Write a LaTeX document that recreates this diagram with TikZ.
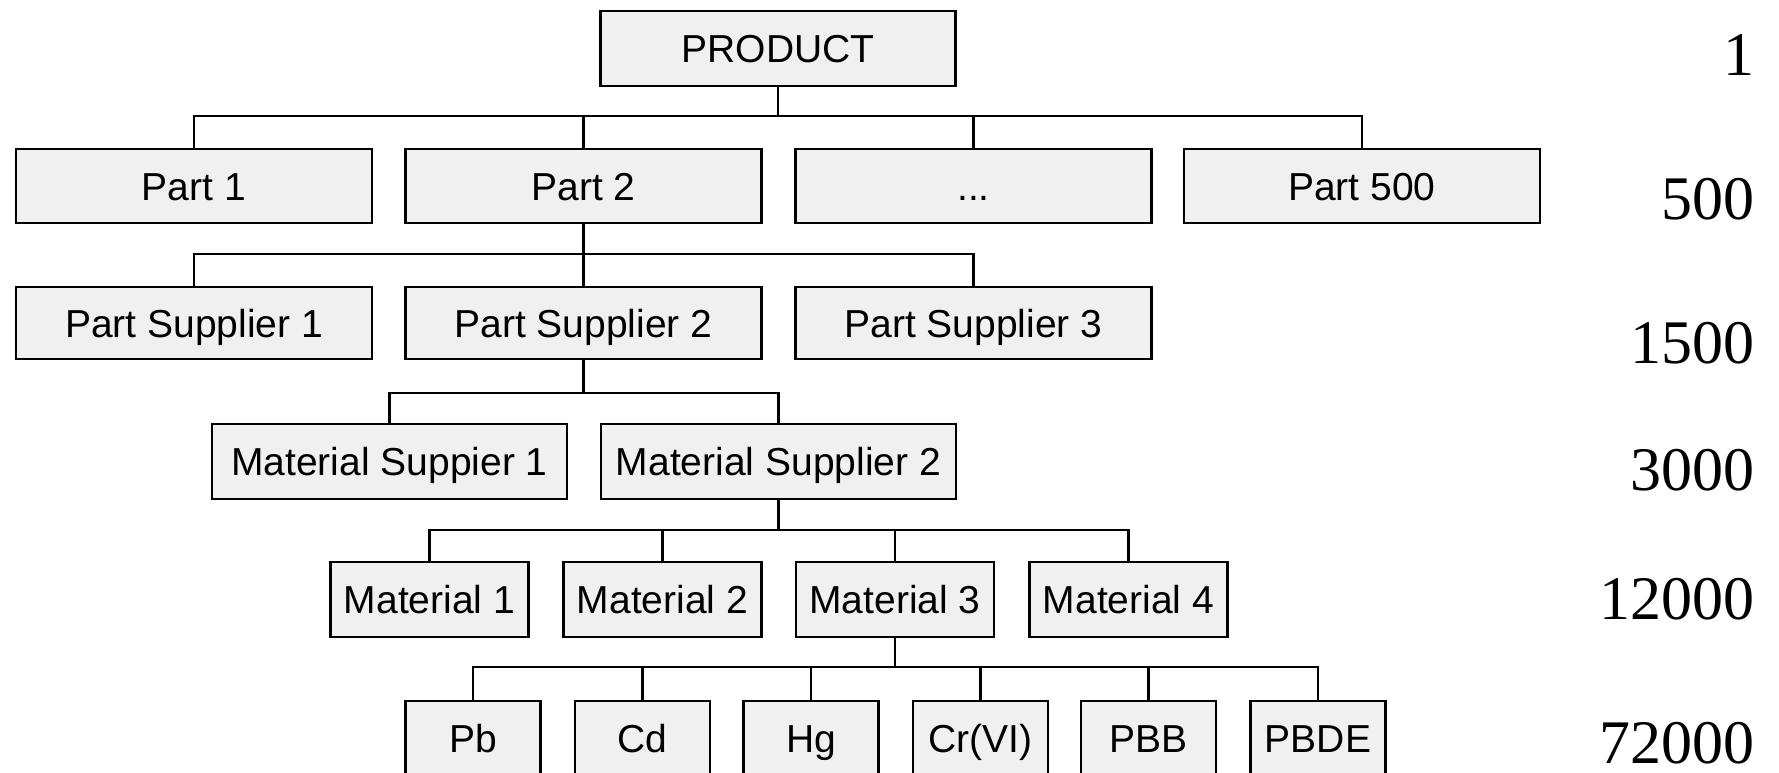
\documentclass[tikz,border=0pt]{standalone}
\usepackage{fontspec}
\setmainfont{Liberation Sans}
\newfontfamily\numfont{Liberation Serif}
\definecolor{boxgray}{RGB}{240,240,240}
\begin{document}
\begin{tikzpicture}[x=0.5pt,y=-0.5pt,
  box/.style={draw=black, line width=1.35pt, fill=boxgray, rectangle, inner sep=0pt,
    font=\fontsize{19.5}{22}\selectfont, text height=14pt, text depth=0pt, minimum height=37.5pt},
  widebox/.style={box, minimum width=178pt},
  matbox/.style={box, minimum width=99pt},
  subbox/.style={box, minimum width=67.5pt},
  num/.style={anchor=east, inner sep=0pt, font=\numfont\fontsize{31}{33}\selectfont},
  conn/.style={line width=1.15pt}]
\useasboundingbox (0,0) rectangle (1779,772);
\clip (0,0) rectangle (1779,772);
% level 1
\node[box, minimum width=177.5pt] (prod) at (778,48.5) {PRODUCT};
% level 2
\node[widebox, minimum height=37pt] (p1) at (194,186) {Part 1};
\node[widebox, minimum height=37pt] (p2) at (583.5,186) {Part 2};
\node[widebox, minimum height=37pt] (pd) at (973.5,186) {...};
\node[widebox, minimum height=37pt] (p500) at (1362,186) {Part 500};
% level 3
\node[widebox, minimum height=36pt] (ps1) at (194,323) {Part Supplier 1};
\node[widebox, minimum height=36pt] (ps2) at (583.5,323) {Part Supplier 2};
\node[widebox, minimum height=36pt] (ps3) at (973.5,323) {Part Supplier 3};
% level 4
\node[box, minimum width=177.5pt] (ms1) at (389.5,461.5) {Material Suppier 1};
\node[box, minimum width=177.5pt] (ms2) at (778.5,461.5) {Material Supplier 2};
% level 5
\node[matbox] (m1) at (429.5,599.5) {Material 1};
\node[matbox] (m2) at (662.5,599.5) {Material 2};
\node[matbox] (m3) at (895,599.5) {Material 3};
\node[matbox] (m4) at (1128.5,599.5) {Material 4};
% level 6
\node[subbox] (pb) at (473,738.5) {Pb};
\node[subbox] (cd) at (642.5,738.5) {Cd};
\node[subbox] (hg) at (811,738.5) {Hg};
\node[subbox] (cr) at (980.5,738.5) {Cr(VI)};
\node[subbox] (pbb) at (1148.5,738.5) {PBB};
\node[subbox] (pbde) at (1318,738.5) {PBDE};
% bus levels
\coordinate (b1) at (0,116);
\coordinate (b2) at (0,254);
\coordinate (b3) at (0,393);
\coordinate (b4) at (0,530);
\coordinate (b5) at (0,667);
% connectors
\foreach \c in {p1,p2,pd,p500}
  \draw[conn] (prod.south) -- (prod.south |- b1) -| (\c.north);
\foreach \c in {ps1,ps2,ps3}
  \draw[conn] (p2.south) -- (p2.south |- b2) -| (\c.north);
\foreach \c in {ms1,ms2}
  \draw[conn] (ps2.south) -- (ps2.south |- b3) -| (\c.north);
\foreach \c in {m1,m2,m3,m4}
  \draw[conn] (ms2.south) -- (ms2.south |- b4) -| (\c.north);
\foreach \c in {pb,cd,hg,cr,pbb,pbde}
  \draw[conn] (m3.south) -- (m3.south |- b5) -| (\c.north);
% counts
\node[num] (n1) at (1755,55) {1};
\node[num] (n2) at (1755,199.5) {500};
\node[num] (n3) at (1755,343) {1500};
\node[num] (n4) at (1755,470) {3000};
\node[num] (n5) at (1755,599.5) {12000};
\node[num] (n6) at (1755,743) {72000};
\end{tikzpicture}
\end{document}
